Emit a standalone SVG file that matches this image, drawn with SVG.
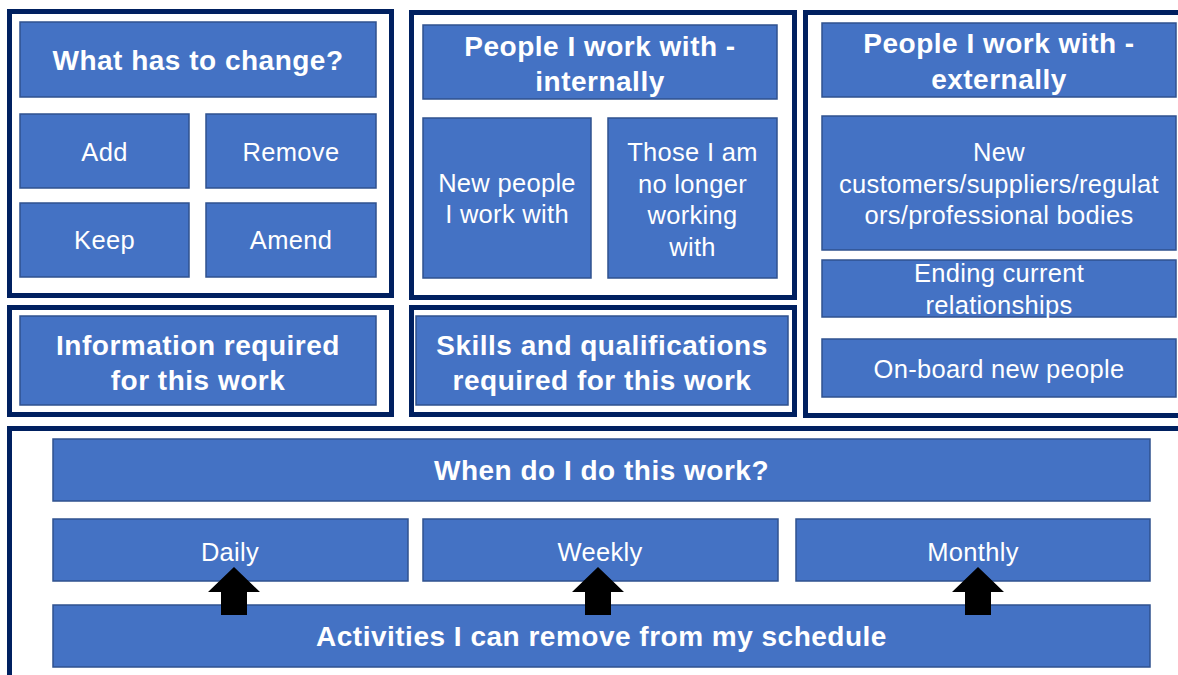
<svg xmlns="http://www.w3.org/2000/svg" width="1178" height="675" viewBox="0 0 1178 675">
<style>
.frame{fill:none;stroke:#002060;stroke-width:5}
.box{fill:#4472C4;stroke:#2F528F;stroke-width:1.5}
.t{fill:#fff;font-family:"Liberation Sans",Arial,sans-serif;font-size:25.5px;letter-spacing:0.3px;text-anchor:middle}
.b{fill:#fff;font-family:"Liberation Sans",Arial,sans-serif;font-size:28px;font-weight:bold;letter-spacing:0.5px;text-anchor:middle}
.arrow{fill:#000}
</style>
<rect width="1178" height="675" fill="#fff"/>
<g id="frames">
<rect class="frame" x="9.5" y="11.5" width="382" height="284"/>
<rect class="frame" x="9.5" y="307.5" width="382" height="107"/>
<rect class="frame" x="411.5" y="12.5" width="383" height="285"/>
<rect class="frame" x="411.5" y="307.5" width="383" height="107"/>
<rect class="frame" x="805.5" y="12.5" width="400" height="403"/>
<rect class="frame" x="9.5" y="428.5" width="1200" height="300"/>
</g>
<g id="what-change"><rect class="box" x="20" y="22" width="356" height="75"/><text class="b" x="198" y="70">What has to change?</text></g>
<g id="add"><rect class="box" x="20" y="114" width="169" height="74"/><text class="t" x="104.5" y="161">Add</text></g>
<g id="remove"><rect class="box" x="206" y="114" width="170" height="74"/><text class="t" x="291" y="161">Remove</text></g>
<g id="keep"><rect class="box" x="20" y="203" width="169" height="74"/><text class="t" x="104.5" y="249">Keep</text></g>
<g id="amend"><rect class="box" x="206" y="203" width="170" height="74"/><text class="t" x="291" y="249">Amend</text></g>
<g id="information"><rect class="box" x="20" y="316" width="356" height="89"/><text class="b" x="198" y="355">Information required</text><text class="b" x="198" y="390">for this work</text></g>
<g id="internal"><rect class="box" x="423" y="25" width="354" height="74"/><text class="b" x="600" y="56">People I work with -</text><text class="b" x="600" y="91">internally</text></g>
<g id="new-people"><rect class="box" x="423" y="118" width="168" height="160"/><text class="t" x="507" y="192">New people</text><text class="t" x="507" y="223">I work with</text></g>
<g id="those"><rect class="box" x="608" y="118" width="169" height="160"/><text class="t" x="692.5" y="161">Those I am</text><text class="t" x="692.5" y="193">no longer</text><text class="t" x="692.5" y="224">working</text><text class="t" x="692.5" y="256">with</text></g>
<g id="skills"><rect class="box" x="416" y="316" width="372" height="89"/><text class="b" x="602" y="355">Skills and qualifications</text><text class="b" x="602" y="390">required for this work</text></g>
<g id="external"><rect class="box" x="822" y="23" width="354" height="74"/><text class="b" x="999" y="53">People I work with -</text><text class="b" x="999" y="89">externally</text></g>
<g id="new-customers"><rect class="box" x="822" y="116" width="354" height="134"/><text class="t" x="999" y="161">New</text><text class="t" x="999" y="193">customers/suppliers/regulat</text><text class="t" x="999" y="224">ors/professional bodies</text></g>
<g id="ending"><rect class="box" x="822" y="260" width="354" height="57"/><text class="t" x="999" y="282">Ending current</text><text class="t" x="999" y="314">relationships</text></g>
<g id="onboard"><rect class="box" x="822" y="339" width="354" height="58"/><text class="t" x="999" y="378">On-board new people</text></g>
<g id="when"><rect class="box" x="53" y="439" width="1097" height="62"/><text class="b" x="601.5" y="480">When do I do this work?</text></g>
<g id="daily"><rect class="box" x="53" y="519" width="355" height="62"/><text class="t" x="230" y="561">Daily</text></g>
<g id="weekly"><rect class="box" x="423" y="519" width="355" height="62"/><text class="t" x="600" y="561">Weekly</text></g>
<g id="monthly"><rect class="box" x="796" y="519" width="354" height="62"/><text class="t" x="973" y="561">Monthly</text></g>
<g id="activities"><rect class="box" x="53" y="605" width="1097" height="62"/><text class="b" x="601.5" y="646">Activities I can remove from my schedule</text></g>
<g id="connectors">
<polygon class="arrow" points="234,567 260,592 247,592 247,615 221,615 221,592 208,592"/>
<polygon class="arrow" points="598,567 624,592 611,592 611,615 585,615 585,592 572,592"/>
<polygon class="arrow" points="978,567 1004,592 991,592 991,615 965,615 965,592 952,592"/>
</g>
</svg>
